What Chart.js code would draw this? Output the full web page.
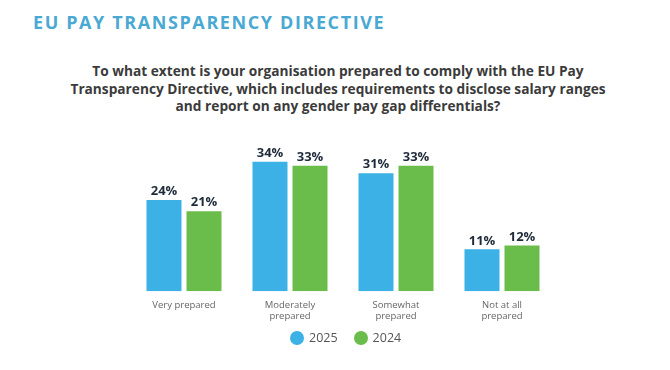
<!DOCTYPE html>
<html>
<head>
<meta charset="utf-8">
<script src="https://cdn.jsdelivr.net/npm/chart.js@4.4.0/dist/chart.umd.js"></script>
<style>
  html, body { margin: 0; padding: 0; background: #ffffff; }
  .wrap { position: relative; width: 670px; height: 370px; overflow: hidden; font-family: 'Open Sans', sans-serif; }
  .title { position: absolute; left: 33px; top: 10px; font-size: 18px; font-weight: 700; letter-spacing: 1.6px; color: #4aa9d3; }
  .question { position: absolute; left: 20px; width: 636px; top: 62px; text-align: center; font-size: 13.7px; font-weight: 700; line-height: 17.5px; color: #3b3b3b; white-space: nowrap; }
  canvas { position: absolute; left: 0; top: 0; }
  .legend { position: absolute; top: 330px; left: 290px; display: flex; font-size: 12.5px; color: #555555; line-height: 16px; }
  .legend span { display: flex; align-items: center; margin-right: 16px; }
  .legend i { display: inline-block; width: 14px; height: 14px; border-radius: 50%; margin-right: 5px; }
</style>
</head>
<body>
<div class="wrap">
  <div class="title">EU PAY TRANSPARENCY DIRECTIVE</div>
  <div class="question">To what extent is your organisation prepared to comply with the EU Pay<br>Transparency Directive, which includes requirements to disclose salary ranges<br>and report on any gender pay gap differentials?</div>
  <canvas id="chart" width="670" height="370"></canvas>
  <div class="legend" id="legend"></div>
</div>
<script>
// Data
const categories = [['Very prepared'], ['Moderately', 'prepared'], ['Somewhat', 'prepared'], ['Not at all', 'prepared']];
const values2025 = [24, 34, 31, 11];
const values2024 = [21, 33, 33, 12];
const seriesNames = ['2025', '2024'];

const blue = '#3cb1e5';
const green = '#6bbd4b';

// Percent labels above each bar
const valueLabels = {
    id: 'valueLabels',
    afterDatasetsDraw(chart) {
        const ctx = chart.ctx;
        ctx.save();
        ctx.font = "700 13px 'Open Sans', sans-serif";
        ctx.fillStyle = '#1f2b3a';
        ctx.textAlign = 'center';
        ctx.textBaseline = 'bottom';
        chart.data.datasets.forEach((ds, i) => {
            chart.getDatasetMeta(i).data.forEach((bar, j) => {
                ctx.fillText(ds.data[j] + '%', bar.x, bar.y - 2);
            });
        });
        ctx.restore();
    }
};

const chart = new Chart(document.getElementById('chart'), {
    type: 'bar',
    data: {
        labels: categories,
        datasets: [
            { label: seriesNames[0], data: values2025, backgroundColor: blue },
            { label: seriesNames[1], data: values2024, backgroundColor: green }
        ]
    },
    options: {
        responsive: false,
        animation: false,
        categoryPercentage: 0.755,
        barPercentage: 0.875,
        layout: { padding: { left: 131, right: 115, top: 139, bottom: 48 } },
        plugins: {
            legend: { display: false },
            tooltip: { enabled: false }
        },
        scales: {
            x: {
                grid: { display: false },
                border: { display: false },
                ticks: {
                    color: '#666666',
                    padding: 0,
                    font: { size: 9.5, family: "'Open Sans', sans-serif" }
                }
            },
            y: {
                display: false,
                min: 0,
                max: 40
            }
        }
    },
    plugins: [valueLabels]
});

// Legend built from the datasets
document.getElementById('legend').innerHTML = chart.data.datasets
    .map(ds => `<span><i style="background:${ds.backgroundColor}"></i>${ds.label}</span>`)
    .join('');
</script>
</body>
</html>
